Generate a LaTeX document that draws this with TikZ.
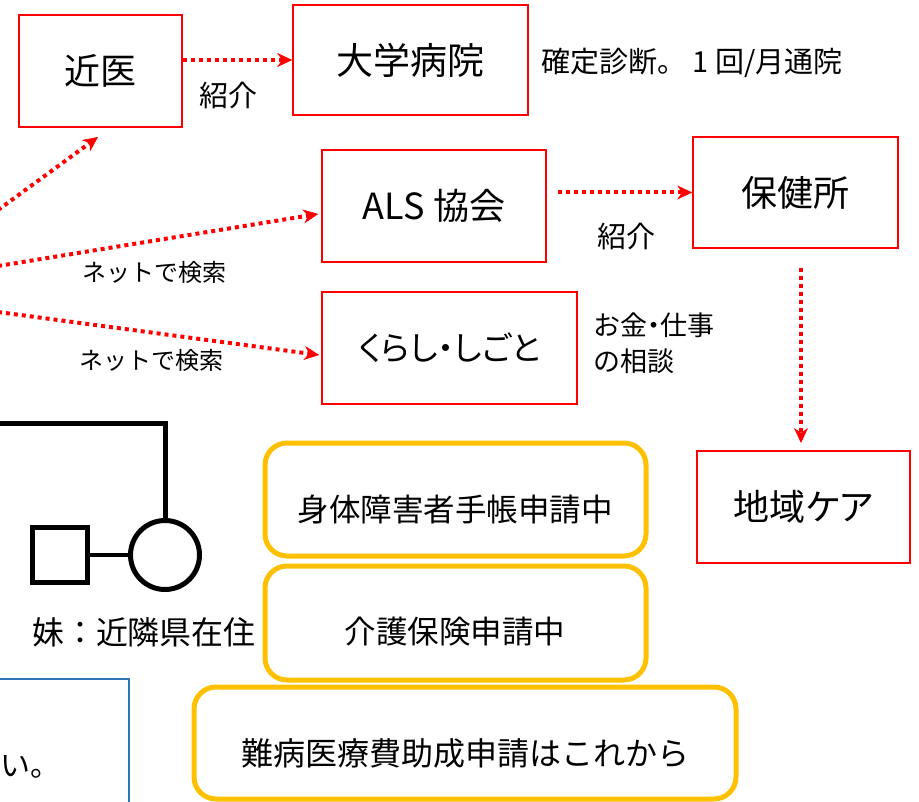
\documentclass[tikz,border=0pt]{standalone}
\usepackage{fontspec}
\setmainfont{Noto Sans CJK JP}
\newfontfamily\paltfont[RawFeature=+palt]{Noto Sans CJK JP}
\usetikzlibrary{arrows.meta}
\definecolor{myred}{RGB}{255,0,0}
\definecolor{myyellow}{RGB}{255,192,0}
\definecolor{myblue}{RGB}{46,117,182}
\tikzset{
  redbox/.style={draw=myred, line width=1.6pt, inner sep=0pt, font=\fontsize{36}{40}\selectfont},
  yelbox/.style={draw=myyellow, line width=5pt, rounded corners=22pt, inner sep=0pt},
  yeltext/.style={inner sep=0pt, font=\fontsize{31.5}{34}\selectfont},
  redarrow/.style={draw=myred, line width=4pt, dash pattern=on 4pt off 4pt,
     -{Stealth[length=15pt,width=14pt,line width=0.5pt]}},
  lbl/.style={inner sep=0pt, font=\fontsize{29}{30}\selectfont},
  smalllbl/.style={inner sep=0pt, font=\fontsize{24}{28}\selectfont},
  famline/.style={draw=black, line width=5pt},
}
\begin{document}
\begin{tikzpicture}[x=1pt,y=-1pt]
\useasboundingbox (0,0) rectangle (919,802);

% red boxes
\node[redbox, minimum width=163pt, minimum height=112pt] (kini) at (100.5,71) {近医};
\node[redbox, minimum width=235pt, minimum height=110pt, font=\fontsize{37}{40}\selectfont] (daigaku) at (410.5,60) {大学病院};
\node[redbox, minimum width=224pt, minimum height=112pt] (als) at (434,206) {ALS 協会};
\node[redbox, minimum width=205pt, minimum height=111pt] (hoken) at (795.5,192.5) {保健所};
\node[redbox, minimum width=255pt, minimum height=112pt, font=\fontsize{33}{40}\selectfont\paltfont] (kurashi) at (449.5,348) {くらし・しごと};
\node[redbox, minimum width=213pt, minimum height=112pt, font=\fontsize{36}{40}\selectfont\paltfont] (chiiki) at (803.5,507) {地域ケア};

% labels
\node[lbl] (shokai1) at (228,95) {紹介};
\node[lbl, anchor=west, font=\fontsize{29}{30}\selectfont] (kakutei) at (541,63) {確定診断。 1 回/月通院};
\node[lbl] (shokai2) at (626,236) {紹介};
\node[smalllbl] (net1) at (154,272) {ネットで検索};
\node[smalllbl] (net2) at (151,360) {ネットで検索};
\node[lbl, anchor=north west, align=left, font=\fontsize{27}{36}\selectfont\paltfont] (okane) at (594,313) {お金・仕事\\の相談};

% red dotted arrows
\draw[redarrow] (kini.east |- daigaku.west) -- (daigaku.west);
\coordinate (a2s) at (-2,210);
\coordinate (a2e) at (98,137);
\draw[redarrow] (a2s) -- (a2e);
\coordinate (a3s) at (-2,266);
\draw[redarrow] (a3s) -- ([xshift=-3pt,yshift=-8pt]als.west);
\coordinate (a4s) at (-2,312);
\draw[redarrow] (a4s) -- ([xshift=-2pt,yshift=-7pt]kurashi.west);
\draw[redarrow] ([xshift=11pt]als.east |- hoken.west) -- (hoken.west);
\coordinate (a6s) at (801,268);
\coordinate (a6e) at (801,443);
\draw[redarrow] (a6s) -- (a6e);

% family tree
\node[famline, circle, minimum size=69pt, inner sep=0pt] (sis) at (165,555) {};
\node[famline, rectangle, minimum size=55pt, inner sep=0pt] (hus) at (60,555) {};
\coordinate (ftop) at (-5,424);
\draw[famline] (ftop) -| (sis.north);
\draw[draw=black, line width=4pt] (hus.east) -- (sis.west);
\node[inner sep=0pt, font=\fontsize{32}{34}\selectfont] (imouto) at (144,632) {妹：近隣県在住};

% yellow boxes
\node[yelbox, minimum width=381pt, minimum height=113pt] (b1) at (455.5,499.5) {};
\node[yeltext] (t1) at (455,509) {身体障害者手帳申請中};
\node[yelbox, minimum width=381pt, minimum height=114pt] (b2) at (455.5,623) {};
\node[yeltext] (t2) at (455,632) {介護保険申請中};
\node[yelbox, minimum width=542pt, minimum height=112pt] (b3) at (465,743) {};
\node[yeltext, font=\fontsize{32}{34}\selectfont] (t3) at (465,753) {難病医療費助成申請はこれから};

% blue box
\coordinate (bb1) at (-5,679);
\coordinate (bb2) at (129,812);
\draw[draw=myblue, line width=1.5pt] (bb1) rectangle (bb2);
\node[inner sep=0pt, anchor=west, font=\fontsize{30}{34}\selectfont] (nai) at (0,767) {い。};
\end{tikzpicture}
\end{document}
